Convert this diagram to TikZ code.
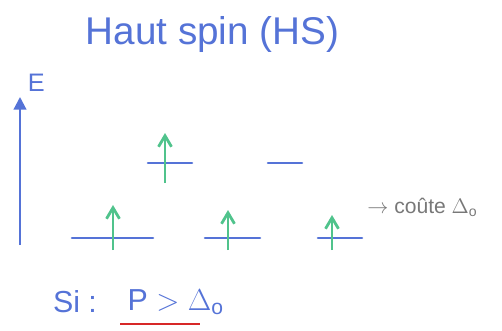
\documentclass[tikz,border=0pt]{standalone}
\usepackage{fontspec}
\setmainfont{Liberation Sans}
\usepackage{tikz}
\usetikzlibrary{arrows.meta,positioning}
\definecolor{inkblue}{RGB}{85,115,215}
\definecolor{inkgreen}{RGB}{80,195,140}
\definecolor{inkred}{RGB}{215,40,40}
\definecolor{inkgray}{RGB}{120,120,120}
\tikzset{
  level/.style={draw=inkblue, line width=1.5pt, line cap=round},
  spin/.style={-{Straight Barb[length=2.2mm,width=2.6mm]}, draw=inkgreen, line width=1.6pt},
  axis/.style={-{Triangle[length=2.5mm,width=2.5mm]}, draw=inkblue, line width=1.2pt},
  ink/.style={text=inkblue, inner sep=0pt}
}

\begin{document}
\begin{tikzpicture}
  \useasboundingbox (0,0) rectangle (10.04,6.6);
  \node[ink, font=\fontsize{22}{24}\selectfont] (title) at (4.25,5.9) {Haut spin (HS)};

  % energy axis
  \coordinate (axlow) at (0.4,1.7);
  \coordinate (axtop) at (0.4,4.66);
  \draw[axis] (axlow) -- (axtop);
  \node[ink, font=\Large, above right=0.1cm and 0.15cm of axtop] (E) {E};

  % upper levels
  \coordinate (ua) at (2.96,3.34); \coordinate (ub) at (3.84,3.34);
  \coordinate (uc) at (5.36,3.34); \coordinate (ud) at (6.04,3.34);
  \draw[level] (ua) -- (ub);
  \draw[level] (uc) -- (ud);
  \draw[spin] (3.3,2.94) -- (3.3,3.94);

  % lower levels
  \coordinate (la) at (1.44,1.84); \coordinate (lb) at (3.06,1.84);
  \coordinate (lc) at (4.1,1.84);  \coordinate (ld) at (5.2,1.84);
  \coordinate (le) at (6.36,1.84); \coordinate (lf) at (7.24,1.84);
  \draw[level] (la) -- (lb);
  \draw[level] (lc) -- (ld);
  \draw[level] (le) -- (lf);
  \draw[spin] (2.26,1.6) -- (2.26,2.5);
  \draw[spin] (4.56,1.6) -- (4.56,2.4);
  \draw[spin] (6.64,1.6) -- (6.64,2.3);

  \node[text=inkgray, font=\large, anchor=west, inner sep=0pt] (cost) at (7.34,2.46) {$\to$ coûte $\Delta_\mathrm{o}$};

  % condition
  \node[ink, font=\LARGE] (si) at (1.5,0.56) {Si :};
  \node[ink, font=\LARGE, right=0.6cm of si] (cond) {P $>$ $\Delta_\mathrm{o}$};
  \coordinate (ula) at (2.4,0.12);
  \coordinate (ulb) at (4.0,0.12);
  \draw[draw=inkred, line width=1.4pt] (ula) -- (ulb);
\end{tikzpicture}
\end{document}
